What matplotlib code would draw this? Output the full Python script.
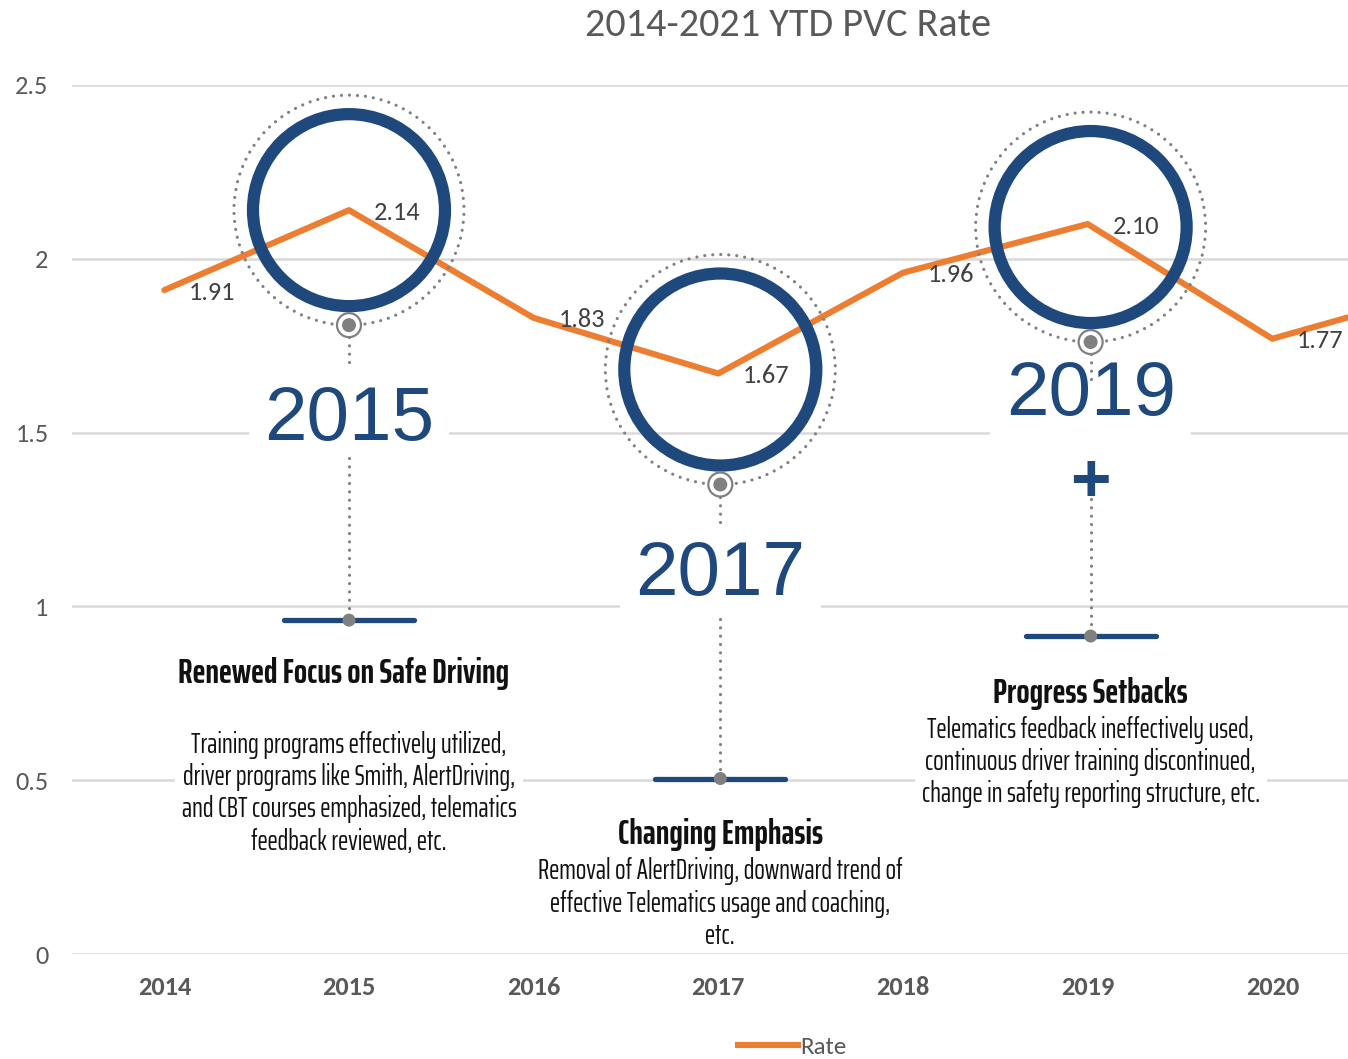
import matplotlib
matplotlib.use('Agg')
import matplotlib.pyplot as plt
import matplotlib.patches as mpatches
from matplotlib.transforms import ScaledTranslation

# data
years = [2014, 2015, 2016, 2017, 2018, 2019, 2020, 2021]
rates = [1.91, 2.14, 1.83, 1.67, 1.96, 2.10, 1.77, 1.92]
y_ticks = [0, 0.5, 1, 1.5, 2, 2.5]

highlight_years = [2015, 2017, 2019]
highlight_titles = ['Renewed Focus on Safe Driving', 'Changing Emphasis', 'Progress Setbacks']
highlight_texts = [
    'Training programs effectively utilized,\ndriver programs like Smith, AlertDriving,\n'
    'and CBT courses emphasized, telematics\nfeedback reviewed, etc.',
    'Removal of AlertDriving, downward trend of\neffective Telematics usage and coaching,\netc.',
    'Telematics feedback ineffectively used,\ncontinuous driver training discontinued,\n'
    'change in safety reporting structure, etc.',
]

ORANGE = '#ed7d31'
BLUE = '#1f497d'
GRAY = '#808080'
TXT = '#595959'
COND = 'Saira ExtraCondensed'

# call-out layout, pixels relative to the data point (y downwards)
callouts = {
    2015: dict(dx=0, dy=0, label_y=210, plus_y=None, bar_y=410, title_dx=-5, title_y=463,
               body_y=583, dots=[(127, 156), (248, 410)], body_box=True),
    2017: dict(dx=2, dy=-4, label_y=206, plus_y=None, bar_y=409, title_dx=0, title_y=465,
               body_y=534, dots=[(127, 156), (249, 409)], body_box=False),
    2019: dict(dx=3, dy=3, label_y=168, plus_y=256, bar_y=409, title_dx=0, title_y=466,
               body_y=535, dots=[(127, 158), (272, 409)], body_box=True),
}

fig = plt.figure(figsize=(13.48, 10.59), dpi=100)
ax = fig.add_axes([72 / 1348, 105 / 1059, 1 - 72 / 1348, 869 / 1059])

ax.plot(years, rates, color=ORANGE, lw=4.4, solid_joinstyle='round', solid_capstyle='round', zorder=2)
ax.set_xlim(2013.5, 2020.41)
ax.set_ylim(0, 2.5)

ax.set_yticks(y_ticks)
ax.set_yticklabels(['%g' % t for t in y_ticks])
ax.set_xticks(years[:-1])
ax.set_xticklabels([str(y) for y in years[:-1]])
ax.tick_params(axis='both', length=0, labelcolor=TXT, labelsize=19)
ax.tick_params(axis='y', pad=17)
ax.tick_params(axis='x', pad=16)
for lab in ax.get_xticklabels() + ax.get_yticklabels():
    lab.set_family('Carlito')
for lab in ax.get_xticklabels():
    lab.set_weight('bold')
ax.grid(axis='y', color='#d9d9d9', lw=1.8)
ax.set_axisbelow(True)
for s in ax.spines.values():
    s.set_visible(False)

# data labels
for yr, r in zip(years, rates):
    if yr > 2020:
        continue
    ax.annotate('%.2f' % r, (yr, r), xytext=(48, -2), textcoords='offset pixels',
                ha='center', va='center', fontsize=19, family='Carlito', color='#404040', zorder=3)

fig.text(788 / 1348, 1 - 25 / 1059, '2014-2021 YTD PVC Rate', ha='center', va='center',
         fontsize=29, family='Carlito', color=TXT)

fig.legend(handles=[plt.Line2D([], [], color=ORANGE, lw=4.4)], labels=['Rate'],
           loc='center', bbox_to_anchor=(792 / 1348, 1 - 1047 / 1059), frameon=False,
           handlelength=2.4, handletextpad=0.1, prop={'family': 'Carlito', 'size': 18},
           labelcolor=TXT)


def anchor(yr, val):
    # offsets in inches (dpi 100, so pixels / 100) around a data point
    return fig.dpi_scale_trans + ScaledTranslation(yr, val, ax.transData)


for yr, title, body in zip(highlight_years, highlight_titles, highlight_texts):
    val = rates[years.index(yr)]
    c = callouts[yr]
    T = anchor(yr, val)
    x0 = c['dx'] / 100.0

    def p(dy):
        return -(dy + c['dy']) / 100.0

    ax.add_patch(mpatches.Circle((x0, p(0)), 0.96, transform=T, fill=False, ec=BLUE, lw=8.8,
                                 zorder=5, clip_on=False))
    ax.add_patch(mpatches.Circle((x0, p(0)), 1.15, transform=T, fill=False, ec=GRAY, lw=2.3,
                                 ls=(0, (0.01, 2.5)), capstyle='round', zorder=5, clip_on=False))
    # pin marker under the circles
    ax.add_patch(mpatches.Circle((x0, p(115)), 0.12, transform=T, fc='white', ec=GRAY, lw=1.6,
                                 zorder=6, clip_on=False))
    ax.add_patch(mpatches.Circle((x0, p(115)), 0.07, transform=T, fc=GRAY, ec='none',
                                 zorder=7, clip_on=False))
    for d0, d1 in c['dots']:
        ax.plot([x0, x0], [p(d0), p(d1)], transform=T, color=GRAY, lw=2.3, ls=(0, (0.01, 2.6)),
                dash_capstyle='round', zorder=4, clip_on=False)
    # horizontal bar with a dot in the middle
    ax.plot([x0 - 0.65, x0 + 0.65], [p(c['bar_y']), p(c['bar_y'])], transform=T, color=BLUE,
            lw=3.8, solid_capstyle='round', zorder=4, clip_on=False)
    ax.add_patch(mpatches.Circle((x0, p(c['bar_y'])), 0.065, transform=T, fc=GRAY, ec='none',
                                 zorder=5, clip_on=False))

    ax.text(x0, p(c['label_y']), str(yr), transform=T, ha='center', va='center', fontsize=55,
            family='Liberation Sans', color=BLUE, zorder=3,
            bbox=dict(boxstyle='square,pad=0.2', fc='white', ec='none'))
    if c['plus_y'] is not None:
        ax.text(x0, p(c['plus_y']), '+', transform=T, ha='center', va='center', fontsize=50,
                family='Liberation Sans', weight='bold', color=BLUE, zorder=3)
    ax.text(x0 + c['title_dx'] / 100.0, p(c['title_y']), title, transform=T, ha='center',
            va='center', fontsize=25, family=COND, weight='bold', color='#111111', zorder=4)
    box = dict(boxstyle='square,pad=0.25', fc='white', ec='none') if c['body_box'] else None
    ax.text(x0, p(c['body_y']), body, transform=T, ha='center', va='center', fontsize=20,
            family=COND, color='#111111', linespacing=1.2, zorder=3, bbox=box)

fig.savefig('out.png', dpi=100)
